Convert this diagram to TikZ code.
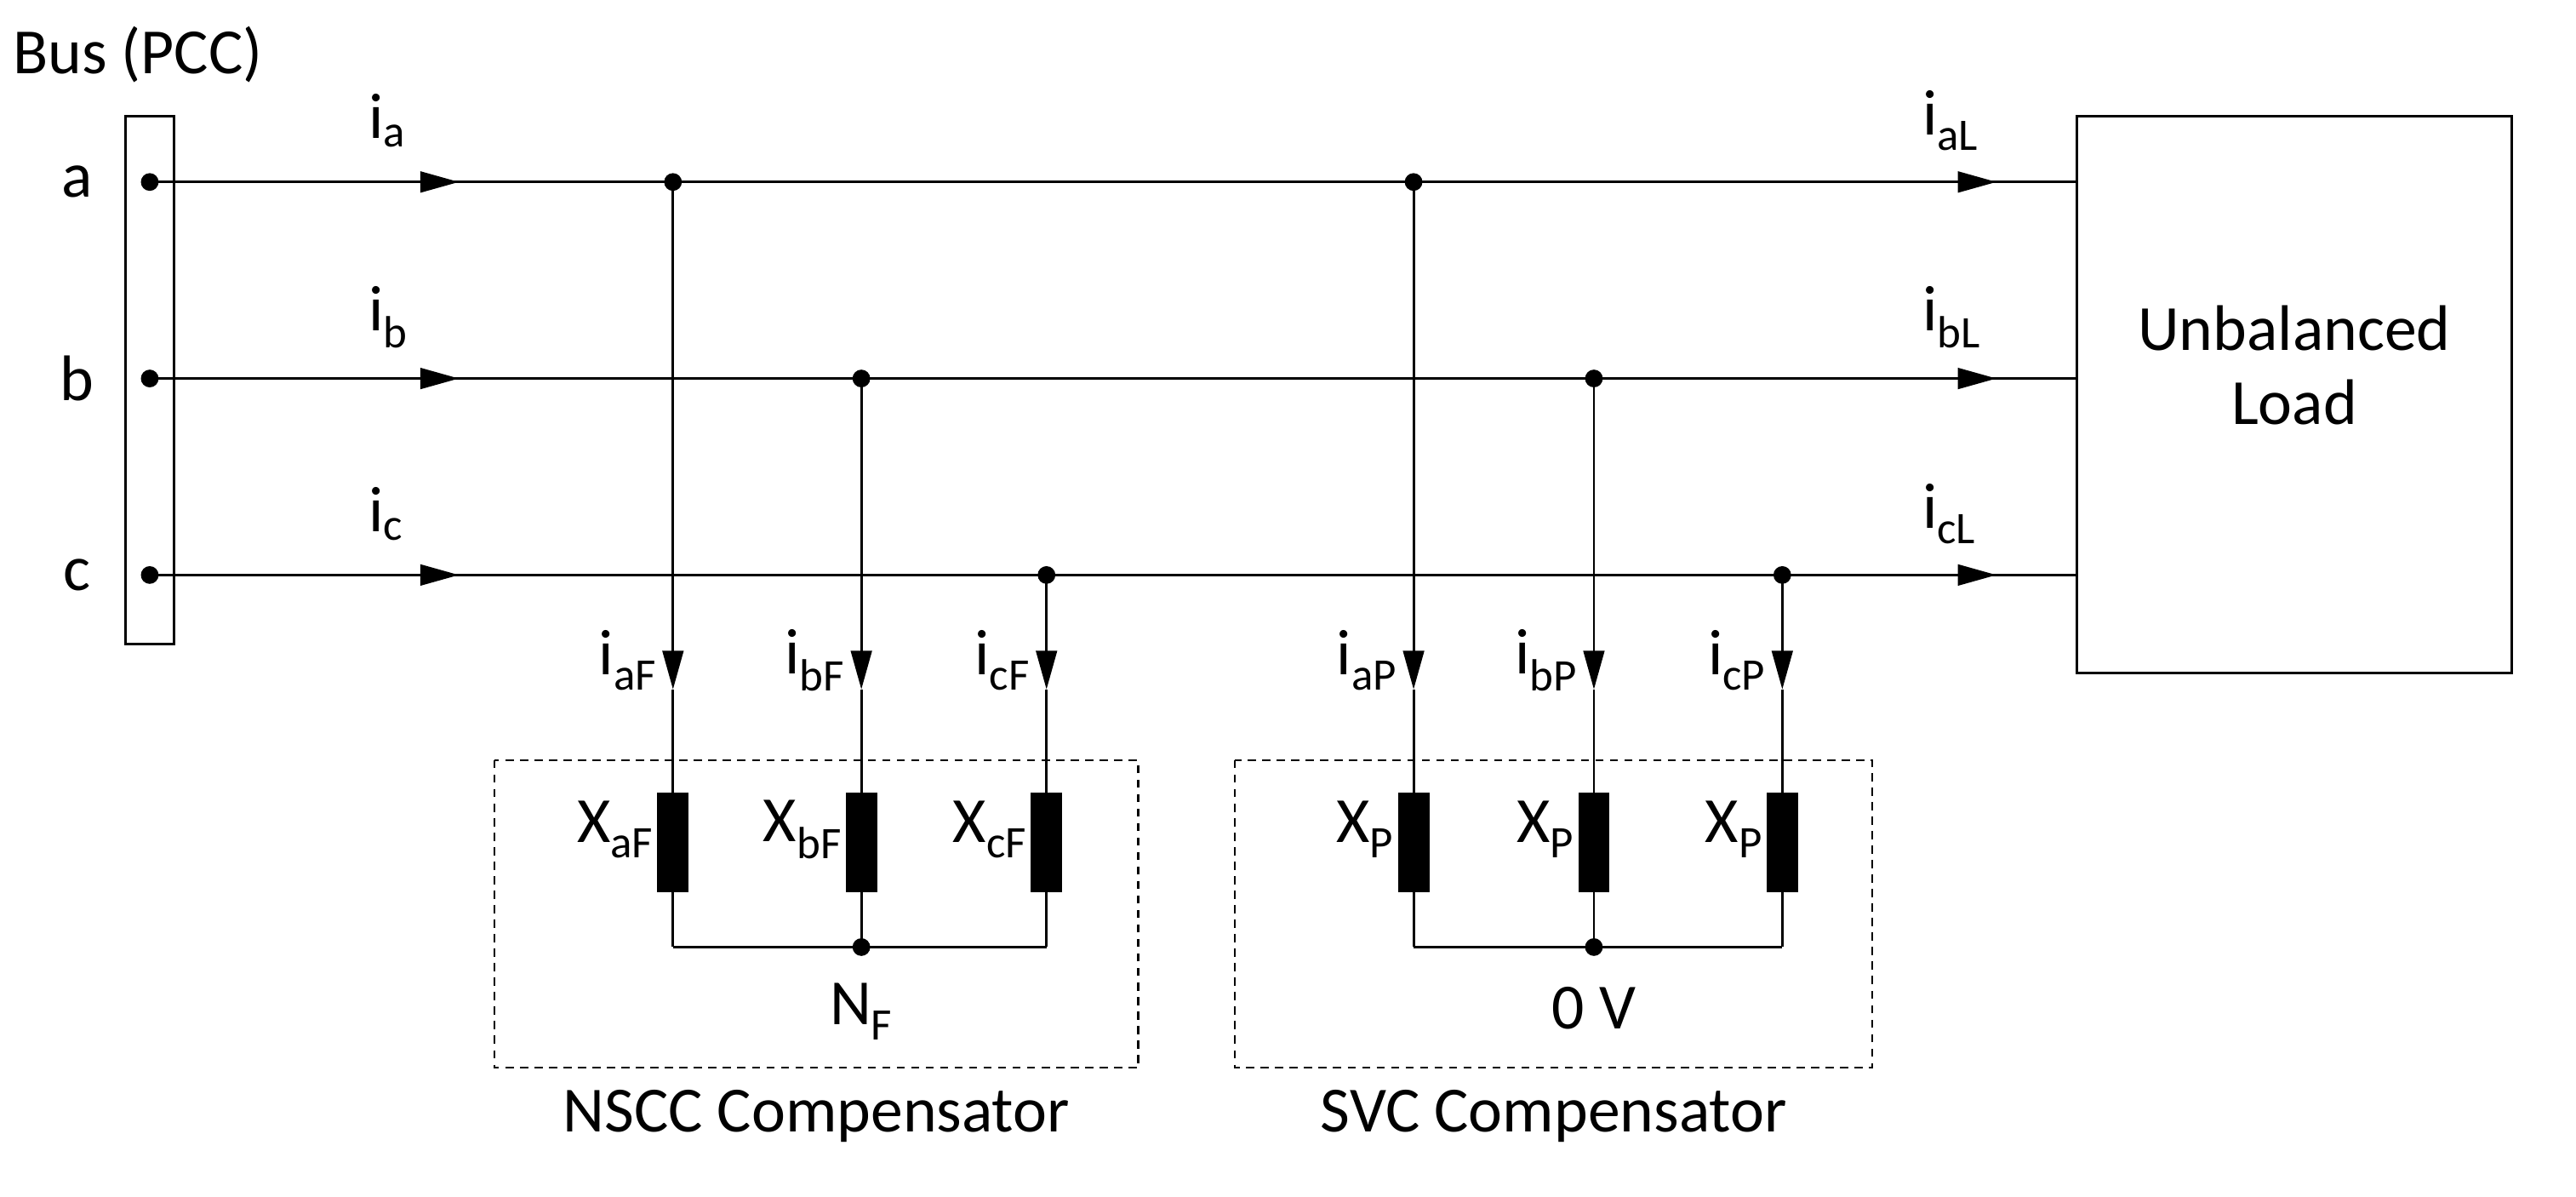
\documentclass[tikz,border=0pt]{standalone}
\usepackage{fontspec}
\setmainfont{Carlito}
\usetikzlibrary{arrows.meta}
\begin{document}
\begin{tikzpicture}[x=1pt,y=-1pt,line width=1.5pt,
  every node/.style={font=\fontsize{40}{46}\selectfont},
  arr/.style={-{Triangle[length=24pt,width=13pt]}},
  dot/.style={circle,fill,inner sep=0pt,minimum size=11pt},
  res/.style={draw,fill,minimum width=18pt,minimum height=60pt,inner sep=0pt},
  dbox/.style={draw,dash pattern=on 5pt off 4pt,line width=1.2pt}]
\useasboundingbox (0,0) rectangle (1600,743);
\node[anchor=west] (bus) at (4,34) {Bus (PCC)};
\draw (78,72) rectangle (108,400);
\node (la) at (48,113) {a};
\node (lb) at (48,235) {b};
\node (lc) at (48,357) {c};
\draw (1290,72) rectangle (1560,418);
\node[align=center] (load) at (1425,227) {Unbalanced\\Load};
\foreach \n/\y/\s in {a/113/a,b/235/b,c/357/c}{
  \node[dot] (p\n) at (93,\y) {};
  \coordinate (m\n) at (285,\y);
  \coordinate (r\n) at (1240,\y);
  \coordinate (e\n) at (1290,\y);
  \draw (p\n.center) -- (e\n);
  \draw[arr] (m\n) ++(-40,0) -- (m\n);
  \draw[arr] (r\n) ++(-40,0) -- (r\n);
  \node[anchor=west] (ti\n) at (225,\y-38) {i$_{\mathrm{\s}}$};
  \node[anchor=west] (tl\n) at (1190,\y-38) {i$_{\mathrm{\s L}}$};
}
\foreach \x/\y/\nm/\il/\xl in {418/113/FA/aF/aF,535/235/FB/bF/bF,650/357/FC/cF/cF,878/113/PA/aP/P,990/235/PB/bP/P,1107/357/PC/cP/P}{
  \node[dot] (j\nm) at (\x,\y) {};
  \coordinate (k\nm) at (\x,428);
  \node[res] (x\nm) at (\x,523) {};
  \coordinate (b\nm) at (\x,588);
  \draw[arr] (j\nm.center) -- (k\nm);
  \draw (k\nm) -- (x\nm.north);
  \draw (x\nm.south) -- (b\nm);
  \node[anchor=east] (il\nm) at (\x-6,410) {i$_{\mathrm{\il}}$};
  \node[anchor=east] (xl\nm) at (\x-8,515) {X$_{\mathrm{\xl}}$};
}
\draw (bFA) -- (bFC);
\draw (bPA) -- (bPC);
\node[dot] (nf) at (535,588) {};
\node[dot] (nz) at (990,588) {};
\node (nfl) at (535,628) {N$_{\mathrm{F}}$};
\node (nzl) at (990,626) {0 V};
\draw[dbox] (307,472) rectangle (707,663);
\draw[dbox] (767,472) rectangle (1163,663);
\node (c1) at (507,693) {NSCC Compensator};
\node (c2) at (965,693) {SVC Compensator};
\end{tikzpicture}
\end{document}
